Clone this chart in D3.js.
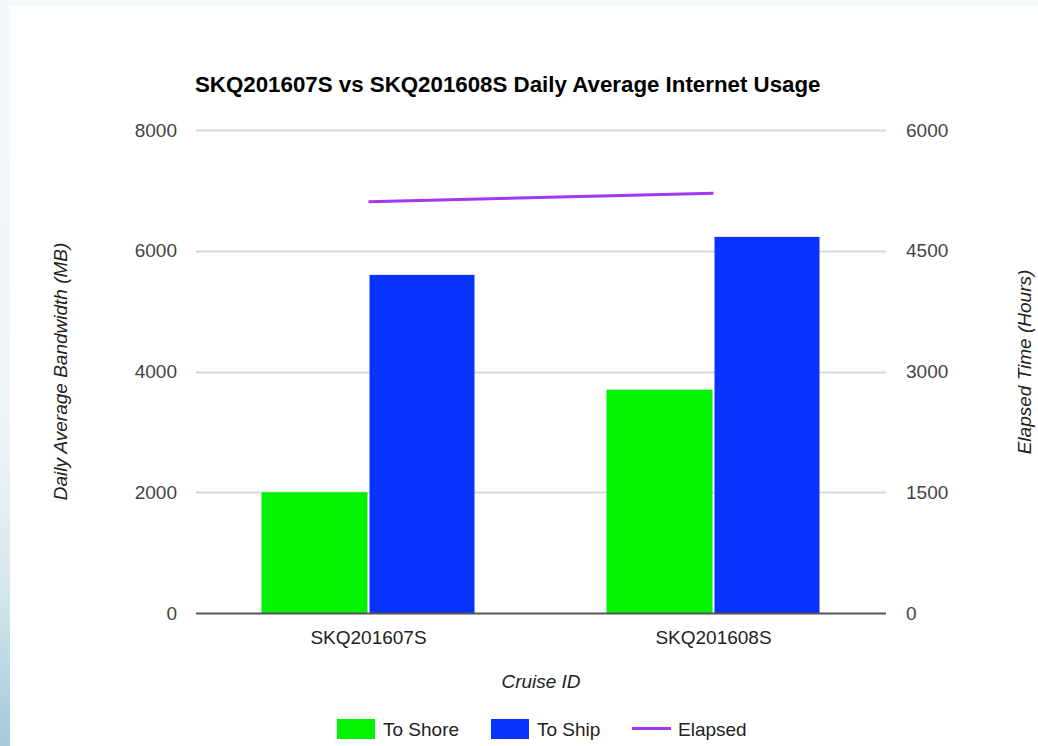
<!DOCTYPE html>
<html>
<head>
<meta charset="utf-8">
<script src="https://cdn.jsdelivr.net/npm/d3@7"></script>
<style>
  html, body { margin: 0; padding: 0; }
  body {
    width: 1038px; height: 746px; overflow: hidden;
    background: linear-gradient(to bottom, #f5f8fa 0%, #f1f6f8 55%, #d6e8ee 78%, #a4cad8 100%);
    font-family: "Liberation Sans", Arial, sans-serif;
  }
  #card { position: absolute; left: 10px; top: 6px; width: 1028px; height: 740px; background: #fff; }
  svg { position: absolute; left: 0; top: 0; }
</style>
</head>
<body>
<div id="card"></div>
<svg id="chart" width="1038" height="746"></svg>
<script>
// data
var categories = ["SKQ201607S", "SKQ201608S"];
var toShore = [2000, 3700];
var toShip = [5600, 6230];
var elapsed = [5110, 5215];
var leftTicks = [0, 2000, 4000, 6000, 8000];
var rightTicks = [0, 1500, 3000, 4500, 6000];
var seriesNames = ["To Shore", "To Ship", "Elapsed"];
var colors = { "To Shore": "#02f202", "To Ship": "#0833ff", "Elapsed": "#a337f2" };

var svg = d3.select("#chart");
var plotLeft = 196, plotRight = 886, plotTop = 130, plotBottom = 613;

var x = d3.scaleBand().domain(categories).range([plotLeft, plotRight]).paddingInner(0).paddingOuter(0);
var inner = d3.scaleBand().domain(["To Shore", "To Ship"]).range([0, 214]);
var yL = d3.scaleLinear().domain([0, 8000]).range([plotBottom, plotTop]);
var yR = d3.scaleLinear().domain([0, 6000]).range([plotBottom, plotTop]);

// title
svg.append("text")
  .attr("x", 195).attr("y", 92)
  .attr("font-size", 22.3).attr("font-weight", "bold").attr("fill", "#000")
  .text("SKQ201607S vs SKQ201608S Daily Average Internet Usage");

// gridlines
svg.append("g").selectAll("line").data(leftTicks.filter(function(d) { return d > 0; }))
  .enter().append("line")
  .attr("x1", plotLeft).attr("x2", plotRight)
  .attr("y1", function(d) { return Math.round(yL(d)) + 0.5; })
  .attr("y2", function(d) { return Math.round(yL(d)) + 0.5; })
  .attr("stroke", "#d9d9d9").attr("stroke-width", 2);

// left axis labels
var yAxisL = d3.axisLeft(yL).tickValues(leftTicks).tickFormat(d3.format("d")).tickSize(0).tickPadding(0);
var gl = svg.append("g").attr("transform", "translate(177,0)").call(yAxisL);
gl.select(".domain").remove();
gl.selectAll("text").attr("font-size", 19).attr("font-family", "Liberation Sans, Arial, sans-serif").attr("fill", "#444");

// right axis labels
var yAxisR = d3.axisRight(yR).tickValues(rightTicks).tickFormat(d3.format("d")).tickSize(0).tickPadding(0);
var gr = svg.append("g").attr("transform", "translate(906,0)").call(yAxisR);
gr.select(".domain").remove();
gr.selectAll("text").attr("font-size", 19).attr("font-family", "Liberation Sans, Arial, sans-serif").attr("fill", "#444");

// bars
var groups = svg.append("g").selectAll("g").data(categories).enter().append("g")
  .attr("transform", function(d) { return "translate(" + (x(d) + (x.bandwidth() - 214) / 2) + ",0)"; });
groups.append("rect")
  .attr("x", inner("To Shore")).attr("width", inner.bandwidth() - 1)
  .attr("y", function(d, i) { return yL(toShore[i]); })
  .attr("height", function(d, i) { return plotBottom - yL(toShore[i]); })
  .attr("fill", colors["To Shore"]);
groups.append("rect")
  .attr("x", inner("To Ship") + 1).attr("width", inner.bandwidth() - 2)
  .attr("y", function(d, i) { return yL(toShip[i]); })
  .attr("height", function(d, i) { return plotBottom - yL(toShip[i]); })
  .attr("fill", colors["To Ship"]);

// baseline
svg.append("line")
  .attr("x1", plotLeft).attr("x2", plotRight).attr("y1", plotBottom + 0.5).attr("y2", plotBottom + 0.5)
  .attr("stroke", "#555").attr("stroke-width", 2);

// elapsed line
var line = d3.line()
  .x(function(d, i) { return x(categories[i]) + x.bandwidth() / 2; })
  .y(function(d) { return yR(d); });
svg.append("path").attr("d", line(elapsed))
  .attr("fill", "none").attr("stroke", colors["Elapsed"]).attr("stroke-width", 3);

// x labels
var xAxis = d3.axisBottom(x).tickSize(0).tickPadding(0);
var gx = svg.append("g").attr("transform", "translate(0,630)").call(xAxis);
gx.select(".domain").remove();
gx.selectAll("text").attr("font-size", 19).attr("font-family", "Liberation Sans, Arial, sans-serif").attr("fill", "#222");

// axis titles
svg.append("text").attr("x", (plotLeft + plotRight) / 2).attr("y", 688)
  .attr("text-anchor", "middle").attr("font-size", 19).attr("font-style", "italic").attr("fill", "#222")
  .text("Cruise ID");
svg.append("text").attr("transform", "translate(67," + ((plotTop + plotBottom) / 2) + ") rotate(-90)")
  .attr("text-anchor", "middle").attr("font-size", 19).attr("font-style", "italic").attr("fill", "#222")
  .text("Daily Average Bandwidth (MB)");
svg.append("text").attr("transform", "translate(1031,362) rotate(-90)")
  .attr("text-anchor", "middle").attr("font-size", 19).attr("font-style", "italic").attr("fill", "#222")
  .text("Elapsed Time (Hours)");

// legend
var legendX = [337, 491, 632];
var lg = svg.append("g").selectAll("g").data(seriesNames).enter().append("g")
  .attr("transform", function(d, i) { return "translate(" + legendX[i] + ",719)"; });
lg.filter(function(d) { return d !== "Elapsed"; }).append("rect")
  .attr("width", 38).attr("height", 20).attr("fill", function(d) { return colors[d]; });
lg.filter(function(d) { return d === "Elapsed"; }).append("line")
  .attr("x1", 0).attr("x2", 39).attr("y1", 9.5).attr("y2", 9.5)
  .attr("stroke", colors["Elapsed"]).attr("stroke-width", 3);
lg.append("text")
  .attr("x", 46)
  .attr("y", 17).attr("font-size", 19).attr("fill", "#222")
  .text(function(d) { return d; });
</script>
</body>
</html>
